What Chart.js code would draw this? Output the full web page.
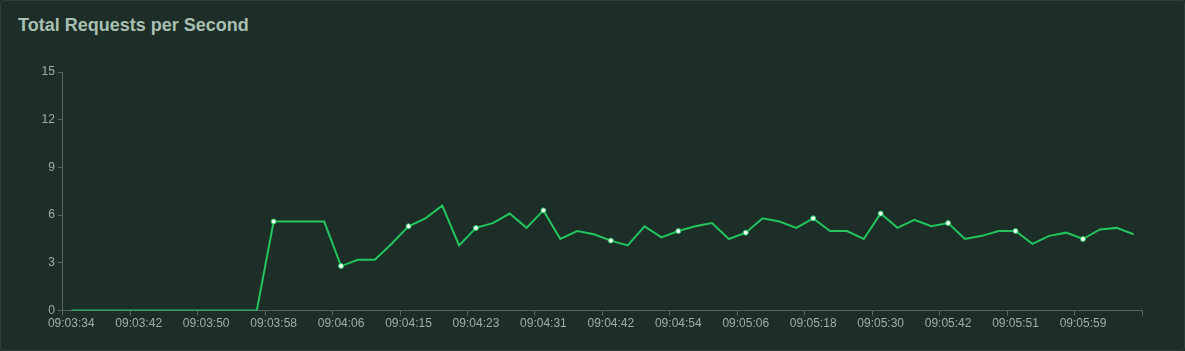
<!DOCTYPE html>
<html>
<head>
<meta charset="utf-8">
<script src="https://cdn.jsdelivr.net/npm/chart.js@4.4.1/dist/chart.umd.min.js"></script>
<style>
  html, body { margin: 0; padding: 0; background: #1c2e27; }
  #card {
    position: relative; width: 1185px; height: 351px; box-sizing: border-box;
    background: #1c2e27; border: 1px solid #2c4037; border-radius: 4px; overflow: hidden;
  }
  #title {
    position: absolute; left: 17px; top: 14px; margin: 0;
    font: bold 18px "Liberation Sans", Arial, sans-serif; color: #a9bfb2;
  }
  #wrap { position: absolute; left: 0; top: 50px; width: 1183px; height: 299px; }
</style>
</head>
<body>
<div id="card">
  <h3 id="title">Total Requests per Second</h3>
  <div id="wrap"><canvas id="c"></canvas></div>
</div>
<script>
const timeLabels = [
  "09:03:34","09:03:36","09:03:38","09:03:40","09:03:42","09:03:44","09:03:46","09:03:48",
  "09:03:50","09:03:52","09:03:54","09:03:56","09:03:58","09:04:00","09:04:02","09:04:04",
  "09:04:06","09:04:08","09:04:10","09:04:13","09:04:15","09:04:17","09:04:19","09:04:21",
  "09:04:23","09:04:25","09:04:27","09:04:29","09:04:31","09:04:34","09:04:37","09:04:39",
  "09:04:42","09:04:45","09:04:48","09:04:51","09:04:54","09:04:57","09:05:00","09:05:03",
  "09:05:06","09:05:09","09:05:12","09:05:15","09:05:18","09:05:21","09:05:24","09:05:27",
  "09:05:30","09:05:33","09:05:36","09:05:39","09:05:42","09:05:44","09:05:46","09:05:49",
  "09:05:51","09:05:53","09:05:55","09:05:57","09:05:59","09:06:01","09:06:03","09:06:05"
];
const requestsPerSecond = [
  0, 0, 0, 0, 0, 0, 0, 0,
  0, 0, 0, 0, 5.6, 5.6, 5.6, 5.6,
  2.8, 3.2, 3.2, 4.2, 5.3, 5.8, 6.6, 4.1,
  5.2, 5.5, 6.1, 5.2, 6.3, 4.5, 5.0, 4.8,
  4.4, 4.1, 5.3, 4.6, 5.0, 5.3, 5.5, 4.5,
  4.9, 5.8, 5.6, 5.2, 5.8, 5.0, 5.0, 4.5,
  6.1, 5.2, 5.7, 5.3, 5.5, 4.5, 4.7, 5.0,
  5.0, 4.2, 4.7, 4.9, 4.5, 5.1, 5.2, 4.8
];
const yTicks = [0, 3, 6, 9, 12, 15];
const labelEvery = 4;

const axisColor = '#56675e';
const tickText = '#a3ada8';
const lineColor = '#22c55e';

new Chart(document.getElementById('c'), {
  type: 'line',
  data: {
    labels: timeLabels,
    datasets: [{
      label: 'Total Requests per Second',
      data: requestsPerSecond,
      borderColor: lineColor,
      borderWidth: 2,
      tension: 0,
      fill: false,
      pointRadius: ctx => (ctx.dataIndex % labelEvery === 0 && ctx.raw > 0) ? 2.5 : 0,
      pointHoverRadius: 3,
      pointBackgroundColor: '#ffffff',
      pointBorderColor: lineColor,
      pointBorderWidth: 1
    }]
  },
  options: {
    responsive: true,
    maintainAspectRatio: false,
    animation: false,
    layout: { padding: { left: 37.5, right: 42, top: 21, bottom: 18 } },
    plugins: { legend: { display: false }, title: { display: false }, tooltip: { enabled: false } },
    scales: {
      x: {
        type: 'category',
        offset: true,
        border: { color: axisColor, width: 1 },
        grid: {
          offset: true,
          drawOnChartArea: false,
          drawTicks: true,
          tickLength: 5,
          tickColor: ctx => (ctx.type !== 'tick' || ctx.index % labelEvery === 0) ? axisColor : 'rgba(0,0,0,0)'
        },
        ticks: {
          autoSkip: false,
          maxRotation: 0,
          minRotation: 0,
          padding: 1,
          color: tickText,
          font: { family: '"Liberation Sans", Arial, sans-serif', size: 12 },
          callback: function(v, i) { return i % labelEvery === 0 ? this.getLabelForValue(v) : ''; }
        }
      },
      y: {
        min: yTicks[0],
        max: yTicks[yTicks.length - 1],
        afterBuildTicks: axis => { axis.ticks = yTicks.map(v => ({ value: v })); },
        border: { color: axisColor, width: 1 },
        grid: { drawOnChartArea: false, drawTicks: true, tickLength: 5, tickColor: axisColor },
        ticks: {
          padding: 3,
          color: tickText,
          font: { family: '"Liberation Sans", Arial, sans-serif', size: 12 }
        }
      }
    }
  }
});
</script>
</body>
</html>
